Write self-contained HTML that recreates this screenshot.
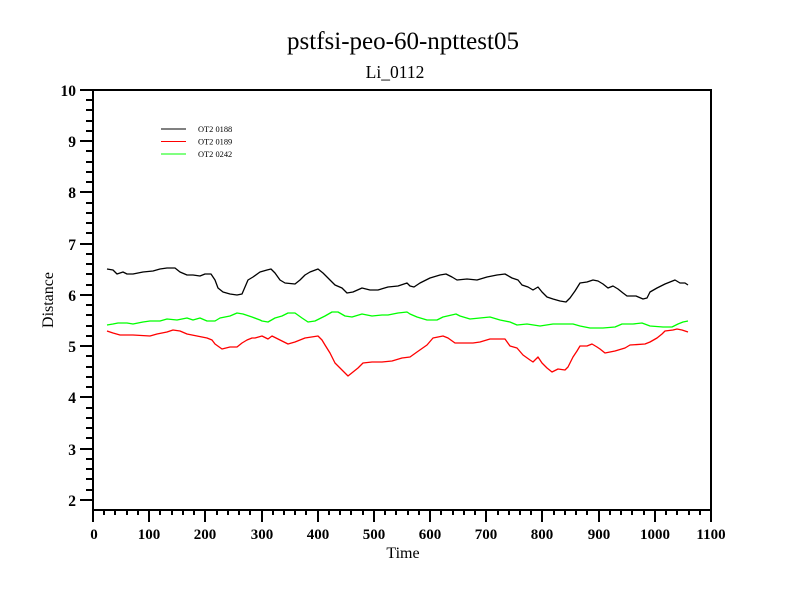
<!DOCTYPE html>
<html>
<head>
<meta charset="utf-8">
<style>
html,body{margin:0;padding:0;background:#fff;}
svg{display:block;}
text{font-family:"Liberation Serif",serif;fill:#000;}
.tl{font-weight:bold;font-size:15px;}
</style>
</head>
<body>
<svg width="800" height="600" viewBox="0 0 800 600" xmlns="http://www.w3.org/2000/svg">
<rect width="800" height="600" fill="#fff"/>
<text x="403" y="49" font-size="25" text-anchor="middle">pstfsi-peo-60-npttest05</text>
<text x="395" y="78" font-size="17.5" text-anchor="middle">Li_0112</text>
<text x="403" y="558" font-size="16" text-anchor="middle">Time</text>
<text transform="translate(53,300) rotate(-90)" font-size="16" text-anchor="middle">Distance</text>

<!-- frame -->
<rect x="93" y="90" width="618" height="420" fill="none" stroke="#000" stroke-width="2"/>

<!-- y ticks -->
<path stroke="#000" stroke-width="2" fill="none" d="
M80 90H93 M80 141H93 M80 192H93 M80 244H93 M80 295H93 M80 346H93 M80 397H93 M80 449H93 M80 500H93
M86 100H93 M86 110H93 M86 121H93 M86 131H93
M86 151H93 M86 162H93 M86 172H93 M86 182H93
M86 203H93 M86 213H93 M86 223H93 M86 233H93
M86 254H93 M86 264H93 M86 274H93 M86 285H93
M86 305H93 M86 315H93 M86 326H93 M86 336H93
M86 356H93 M86 367H93 M86 377H93 M86 387H93
M86 408H93 M86 418H93 M86 428H93 M86 438H93
M86 459H93 M86 469H93 M86 479H93 M86 490H93"/>
<!-- x ticks -->
<path stroke="#000" stroke-width="2" fill="none" d="
M93 510V522 M149 510V522 M205 510V522 M262 510V522 M318 510V522 M374 510V522 M430 510V522 M486 510V522 M542 510V522 M599 510V522 M655 510V522 M711 510V522
M104 510V515 M115 510V515 M127 510V515 M138 510V515
M160 510V515 M172 510V515 M183 510V515 M194 510V515
M217 510V515 M228 510V515 M239 510V515 M250 510V515
M273 510V515 M284 510V515 M295 510V515 M306 510V515
M329 510V515 M340 510V515 M351 510V515 M363 510V515
M385 510V515 M396 510V515 M408 510V515 M419 510V515
M441 510V515 M453 510V515 M464 510V515 M475 510V515
M498 510V515 M509 510V515 M520 510V515 M531 510V515
M554 510V515 M565 510V515 M576 510V515 M587 510V515
M610 510V515 M621 510V515 M632 510V515 M644 510V515
M666 510V515 M677 510V515 M689 510V515 M700 510V515"/>

<!-- y labels -->
<g class="tl" text-anchor="end" style="font-size:15.5px">
<text x="76" y="96">10</text>
<text x="76" y="147">9</text>
<text x="76" y="198">8</text>
<text x="76" y="250">7</text>
<text x="76" y="301">6</text>
<text x="76" y="352">5</text>
<text x="76" y="403">4</text>
<text x="76" y="455">3</text>
<text x="76" y="506">2</text>
</g>
<!-- x labels -->
<g class="tl" text-anchor="middle">
<text x="94" y="539">0</text>
<text x="149" y="539">100</text>
<text x="205" y="539">200</text>
<text x="262" y="539">300</text>
<text x="318" y="539">400</text>
<text x="374" y="539">500</text>
<text x="430" y="539">600</text>
<text x="486" y="539">700</text>
<text x="542" y="539">800</text>
<text x="599" y="539">900</text>
<text x="655" y="539">1000</text>
<text x="711" y="539">1100</text>
</g>

<!-- legend -->
<line x1="161" y1="129" x2="186" y2="129" stroke="#000" stroke-width="1"/>
<line x1="161" y1="141.5" x2="186" y2="141.5" stroke="#f00" stroke-width="1"/>
<line x1="161" y1="154" x2="186" y2="154" stroke="#0f0" stroke-width="1"/>
<g font-size="8.4">
<text x="198" y="132">OT2 0188</text>
<text x="198" y="144.5">OT2 0189</text>
<text x="198" y="157">OT2 0242</text>
</g>

<!-- series -->
<polyline fill="none" stroke="#000" stroke-width="1.3" stroke-linejoin="round" points="107,269 113,270 117,274 123,272 127,274 133,274 143,272 153,271 160,269 167,268 175,268 180,272 187,275 193,275 200,276 205,274 211,274 215,280 218,288 223,292 230,294 237,295 242,294 245,287 248,280 253,277 260,272 267,270 271,269 275,273 280,280 285,283 295,284 300,280 305,275 310,272 318,269 323,273 328,278 335,285 342,288 347,293 353,292 362,288 370,290 378,290 388,287 398,286 407,283 410,286 414,287 420,283 430,278 440,275 446,274 452,277 457,280 467,279 477,280 487,277 497,275 505,274 512,278 518,280 522,285 528,287 533,290 538,287 542,292 547,297 553,299 560,301 566,302 570,298 575,291 580,283 587,282 593,280 598,281 603,284 608,288 613,286 618,289 623,293 627,296 636,296 643,299 647,298 650,292 657,288 665,284 675,280 680,283 685,283 688,285"/>
<polyline fill="none" stroke="#f00" stroke-width="1.3" stroke-linejoin="round" points="107,331 113,333 120,335 133,335 150,336 157,334 167,332 173,330 180,331 187,334 197,336 207,338 212,340 215,344 222,349 230,347 237,347 242,343 247,340 252,338 255,338 262,336 268,339 272,336 282,341 288,344 295,342 305,338 318,336 322,340 325,345 330,353 335,363 342,370 348,376 353,372 358,368 363,363 372,362 382,362 392,361 402,358 410,357 417,352 427,345 433,338 443,336 448,338 455,343 473,343 480,342 490,339 505,339 510,346 517,348 523,355 530,360 533,362 538,357 542,363 547,368 552,372 558,369 565,370 568,367 573,357 577,351 580,346 587,346 592,344 597,347 600,349 605,353 615,351 625,348 630,345 645,344 650,342 657,338 662,334 665,331 673,330 677,329 682,330 688,332"/>
<polyline fill="none" stroke="#0f0" stroke-width="1.3" stroke-linejoin="round" points="107,325 113,324 118,323 127,323 133,324 143,322 150,321 160,321 167,319 177,320 187,318 193,320 200,318 207,321 215,321 220,318 230,316 237,313 243,314 252,317 260,320 262,321 268,322 275,318 282,316 288,313 295,313 302,318 308,322 315,321 325,316 332,312 338,312 345,316 352,317 362,314 372,316 382,315 388,315 398,313 407,312 410,314 417,317 427,320 437,320 443,317 456,314 460,316 470,319 480,318 490,317 500,320 510,322 517,325 527,324 540,326 553,324 560,324 573,324 580,326 590,328 603,328 615,327 622,324 633,324 642,323 650,326 663,327 672,327 678,324 683,322 688,321"/>
</svg>
</body>
</html>
